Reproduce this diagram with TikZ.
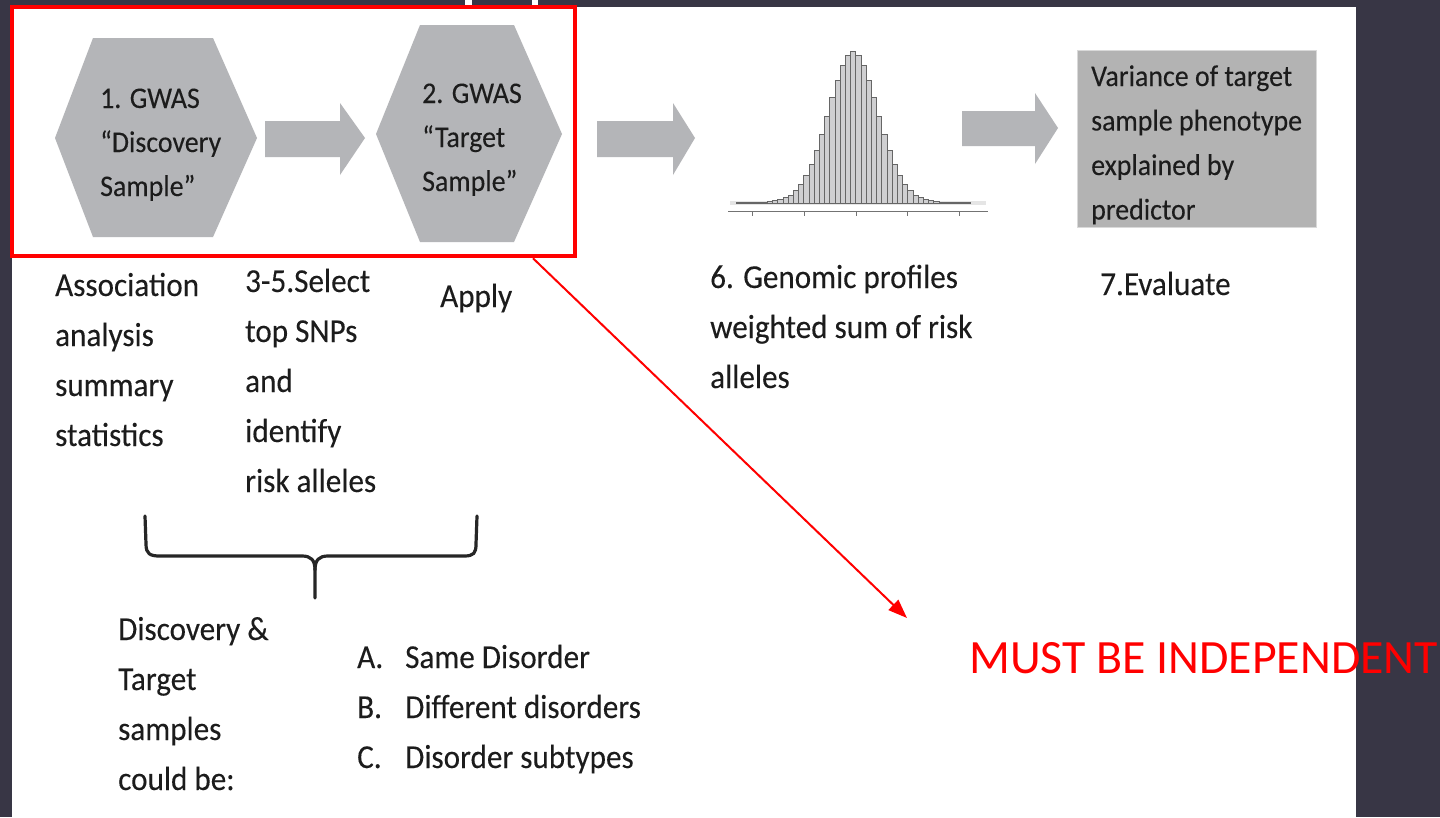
\documentclass[tikz,border=0pt]{standalone}
\usepackage{fontspec}
\usetikzlibrary{arrows.meta,calc}
\newfontfamily\cfont[FakeStretch=0.93,FakeBold=0.15]{Carlito}
\newfontfamily\rfont{Carlito}
\definecolor{darkbg}{HTML}{383645}
\definecolor{shapegray}{HTML}{B4B5B8}
\definecolor{boxgray}{HTML}{B3B3B3}
\definecolor{textc}{HTML}{1C1C1C}
\definecolor{barfill}{HTML}{CFCFD1}
\definecolor{redc}{HTML}{FF0000}
\newcommand\tl[1]{\begin{tabular}[t]{@{}l@{}}#1\end{tabular}}
\newcommand\lblfont{\cfont\fontsize{33.5}{50}\selectfont}
\newcommand\hexfont{\cfont\fontsize{30}{44}\selectfont}
\newcommand\listlbl[1]{\makebox[48pt][l]{#1}}
\begin{document}
\begin{tikzpicture}[x=1pt,y=-1pt,
  txt/.style={anchor=base west,inner sep=0pt,text=textc,font=\lblfont},
  hextxt/.style={anchor=base west,inner sep=0pt,text=textc,font=\hexfont},
  shapefill/.style={fill=shapegray,draw=none},
  brace/.style={draw=black!85,line width=3.2pt,line cap=round,line join=round},
  bar/.style={fill=barfill,draw=black!60,line width=0.5pt}]
\useasboundingbox (0,0) rectangle (1440,817);
% background
\fill[darkbg] (0,0) rectangle (1440,817);
\fill[white] (12,7) rectangle (1356,817);
\fill[white] (465,0) rectangle (472,7);
\fill[white] (532,0) rectangle (538,7);

% hexagons
\fill[shapefill] (55,138) -- (93,38) -- (213,38) -- (257,138) -- (213,237) -- (93,237) -- cycle;
\fill[shapefill] (376,134) -- (420,25) -- (514,25) -- (562,134) -- (514,242) -- (420,242) -- cycle;
\node[hextxt] (h1) at (100,108) {\tl{1. GWAS\\“Discovery\\Sample”}};
\node[hextxt] (h2) at (422,103) {\tl{2. GWAS\\“Target\\Sample”}};

% block arrows
\fill[shapefill] (265,121) -- (340,121) -- (340,103) -- (365,138) -- (340,175) -- (340,157) -- (265,157) -- cycle;
\fill[shapefill] (597,121) -- (673,121) -- (673,103) -- (695,138) -- (673,175) -- (673,157) -- (597,157) -- cycle;
\fill[shapefill] (962,111) -- (1035,111) -- (1035,93) -- (1058,128) -- (1035,164) -- (1035,146) -- (962,146) -- cycle;

% histogram
\fill[black!10] (730,201) rectangle (986,205);
\foreach \i in {-25,...,25}{
  \pgfmathsetmacro\xa{853+\i*5.2-2.6}
  \pgfmathsetmacro\dd{abs(\i*5.2)/25}
  \pgfmathsetmacro\hh{140*exp(-0.5*\dd*\dd)+12*exp(-\dd*25/35)}
  \ifdim\hh pt>0.4pt
    \draw[bar] (\xa,203) rectangle ({\xa+5.2},{203-\hh});
  \fi
}
\draw[black!55,line width=0.9pt] (728,211) -- (988,211);
\foreach \t in {752,804,856,907,959}{
  \draw[black!55,line width=0.9pt] (\t,211) -- (\t,216);
}

% result box
\node[fill=boxgray,draw=black!15,line width=0.6pt,minimum width=239pt,minimum height=177pt,inner sep=0pt] (res) at (1196.5,138.5) {};
\node[hextxt,font=\cfont\fontsize{30}{44.5}\selectfont] (restxt) at (1091,86) {\tl{Variance of target\\sample phenotype\\explained by\\predictor}};

% labels
\node[txt] (l1) at (55,296) {\tl{Association\\analysis\\summary\\statistics}};
\node[txt] (l2) at (245,292) {\tl{3-5.Select\\top SNPs\\and\\identify\\risk alleles}};
\node[txt] (l3) at (440,307) {Apply};
\node[txt] (l6) at (710,288) {\tl{6. Genomic profiles\\weighted sum of risk\\alleles}};
\node[txt] (l7) at (1100,295) {7.Evaluate};

% brace
\draw[brace] (145,516) -- (146,544) .. controls (146,554) and (150,556) .. (160,556) -- (302,556) .. controls (311,556) and (315,560) .. (315,570) -- (315,598);
\draw[brace] (315,570) .. controls (315,560) and (319,556) .. (328,556) -- (464,556) .. controls (474,556) and (476,553) .. (476,544) -- (477,516);

% bottom text
\node[txt] (b1) at (118,640) {\tl{Discovery \&\\Target\\samples\\could be:}};
\node[txt] (b2) at (357,668) {\tl{\listlbl{A.}Same Disorder\\\listlbl{B.}Different disorders\\\listlbl{C.}Disorder subtypes}};

% red selection
\node[draw=redc,line width=4.5pt,minimum width=563pt,minimum height=249pt,inner sep=0pt] (sel) at (293.5,131.5) {};
\coordinate (tip) at (907,618);
\draw[redc,line width=2pt,-{Triangle[length=19pt,width=14pt]}] ($(sel.south west)!0.922!(sel.south east)$) -- (tip);
\node[anchor=base west,inner sep=0pt,text=redc,font=\rfont\fontsize{47.8}{56}\selectfont] (must) at (969,673) {MUST BE INDEPENDENT};
\end{tikzpicture}
\end{document}
